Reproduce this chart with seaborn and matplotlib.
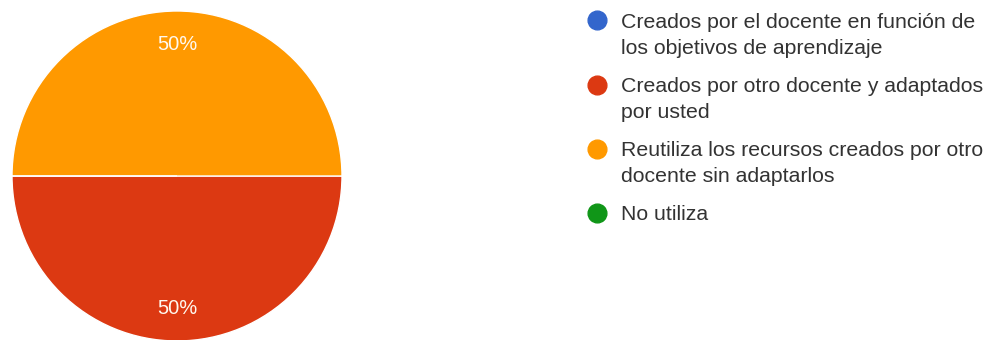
import matplotlib
matplotlib.use("Agg")
import matplotlib.pyplot as plt
from matplotlib.lines import Line2D
import seaborn as sns

categories = [
    "Creados por el docente en función de\nlos objetivos de aprendizaje",
    "Creados por otro docente y adaptados\npor usted",
    "Reutiliza los recursos creados por otro\ndocente sin adaptarlos",
    "No utiliza",
]
values = [0, 50, 50, 0]
colors = ["#3366CC", "#DC3912", "#FF9900", "#109618"]

sns.set_theme(style="white")
plt.rcParams["font.family"] = ["Liberation Sans", "DejaVu Sans"]

W, H = 1000, 340
fig = plt.figure(figsize=(W / 100, H / 100), dpi=100)
cx, cy, r = 177, 176, 165
ax = fig.add_axes([(cx - r) / W, (H - cy - r) / H, 2 * r / W, 2 * r / H])

def fmt(p):
    return f"{p:.0f}%" if p > 0.5 else ""

wedges, texts, autotexts = ax.pie(
    values, colors=colors, startangle=180, counterclock=True,
    autopct=fmt, pctdistance=0.8,
    wedgeprops=dict(edgecolor="white", linewidth=1),
    textprops=dict(color="#FFF8EE", fontsize=14.5),
)
ax.set_xlim(-1, 1)
ax.set_ylim(-1, 1)
ax.set_aspect("equal")

# legend (manual, circle aligned with first line of each label)
item_y = [20, 85, 149, 213]
line_gap = 26
for lab, col, y0 in zip(categories, colors, item_y):
    fig.add_artist(Line2D([597 / W], [1 - y0 / H], marker="o", linestyle="",
                          markersize=13.5, markerfacecolor=col,
                          markeredgecolor=col, transform=fig.transFigure))
    for k, line in enumerate(lab.split("\n")):
        fig.text(621 / W, 1 - (y0 + k * line_gap) / H, line, fontsize=15.3,
                 color="#333333", va="center_baseline", ha="left")

fig.savefig("out.png", dpi=100, facecolor="white")
